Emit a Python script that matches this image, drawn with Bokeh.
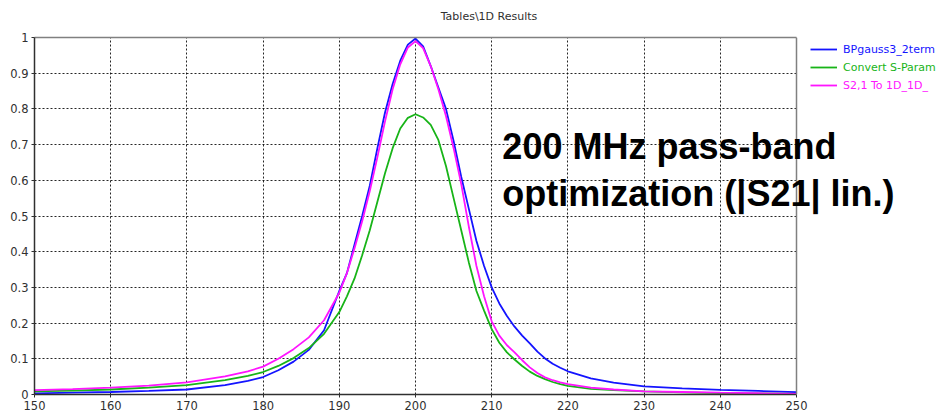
from bokeh.plotting import figure
from bokeh.models import (Range1d, FixedTicker, Label, Legend, LegendItem, LinearAxis,
                          Span, BoxAnnotation)
from bokeh.embed import file_html
from bokeh.resources import INLINE

# ---- data ----
freq = [150, 155, 160, 165, 170, 175, 178, 180, 182, 184, 186, 188, 190,
        191, 192, 193, 194, 195, 196, 197, 198, 199, 200, 201, 202, 203, 204,
        205, 206, 207, 208, 209, 210, 211, 212, 213,
        214, 215, 216, 217, 218, 219, 220, 223, 226, 230, 235, 240, 245, 250]

bp_gauss = [0.003, 0.005, 0.007, 0.010, 0.014, 0.026, 0.038, 0.049, 0.068, 0.092, 0.125, 0.180, 0.29,
            0.34, 0.42, 0.50, 0.585, 0.69, 0.79, 0.87, 0.935, 0.98, 0.997, 0.975, 0.92, 0.86, 0.80,
            0.71, 0.61, 0.52, 0.43, 0.36, 0.30, 0.255, 0.22, 0.19,
            0.165, 0.143, 0.120, 0.101, 0.086, 0.075, 0.065, 0.045, 0.033, 0.023, 0.017, 0.013, 0.010, 0.0065]

convert_s = [0.009, 0.011, 0.014, 0.019, 0.026, 0.040, 0.052, 0.063, 0.080, 0.102, 0.130, 0.170, 0.231,
             0.275, 0.325, 0.39, 0.46, 0.54, 0.62, 0.69, 0.745, 0.775, 0.785, 0.776, 0.755, 0.713, 0.64,
             0.55, 0.46, 0.37, 0.29, 0.235, 0.183, 0.145, 0.118, 0.098,
             0.080, 0.064, 0.052, 0.043, 0.035, 0.029, 0.024, 0.016, 0.012, 0.009, 0.006, 0.004, 0.003, 0.002]

s21 = [0.012, 0.015, 0.019, 0.025, 0.034, 0.051, 0.065, 0.078, 0.100, 0.127, 0.160, 0.208, 0.285,
       0.34, 0.41, 0.485, 0.57, 0.665, 0.765, 0.855, 0.925, 0.972, 0.99, 0.97, 0.92, 0.855, 0.78,
       0.69, 0.59, 0.47, 0.36, 0.275, 0.205, 0.165, 0.138, 0.118,
       0.096, 0.076, 0.060, 0.048, 0.040, 0.034, 0.029, 0.019, 0.014, 0.009, 0.007, 0.005, 0.0035, 0.002]

series_names = ["BPgauss3_2term", "Convert S-Param", "S2,1 To 1D_1D_"]
series_colors = ["#1414ff", "#18b418", "#ff14ff"]

x_ticks = [150, 160, 170, 180, 190, 200, 210, 220, 230, 240, 250]
y_ticks = [0.0, 0.1, 0.2, 0.3, 0.4, 0.5, 0.6, 0.7, 0.8, 0.9, 1.0]
y_tick_labels = ["0", "0.1", "0.2", "0.3", "0.4", "0.5", "0.6", "0.7", "0.8", "0.9", "1"]

chart_title = "Tables\\1D Results"
note_lines = ["200 MHz pass-band", "optimization (|S21| lin.)"]

FONT = "DejaVu Sans"
X_MIN, X_MAX = 150, 250
PX_PER_UNIT = 7.62                      # 10 MHz = 76.2 px in the reference
FRAME_W = 943 - 34
X_VIEW_END = X_MIN + FRAME_W / PX_PER_UNIT   # room right of 250 for legend

p = figure(width=943, height=419, output_backend="svg", toolbar_location=None, title=None,
           x_range=Range1d(X_MIN, X_VIEW_END), y_range=Range1d(0, 1),
           min_border_left=34, min_border_right=0, min_border_top=37, min_border_bottom=25)

p.background_fill_color = "white"
p.border_fill_color = "white"
p.outline_line_color = None

for ax in (p.xaxis[0], p.yaxis[0]):
    ax.axis_line_color = "#303030"
    ax.axis_line_width = 1.5
    ax.major_tick_line_color = "#303030"
    ax.major_tick_in = 0
    ax.major_tick_out = 3
    ax.minor_tick_line_color = None
    ax.major_label_text_font = FONT
    ax.major_label_text_font_size = "11.5px"
    ax.major_label_text_color = "#303030"
    ax.major_label_standoff = 3

p.xaxis[0].bounds = (X_MIN, X_MAX)
p.xaxis[0].ticker = FixedTicker(ticks=x_ticks)
p.yaxis[0].ticker = FixedTicker(ticks=y_ticks)
p.yaxis[0].major_label_overrides = {t: s for t, s in zip(y_ticks, y_tick_labels)}

# top border of the plotting box, carrying the chart title centred over 150..250
top_axis = LinearAxis(bounds=(X_MIN, X_MAX), ticker=FixedTicker(ticks=[]),
                      axis_line_color="#808080", axis_line_width=1.5,
                      major_tick_line_color=None, minor_tick_line_color=None,
                      major_tick_out=0, major_tick_in=0, major_label_standoff=0,
                      major_label_text_alpha=0,
                      axis_label=chart_title, axis_label_standoff=15,
                      axis_label_text_font=FONT, axis_label_text_font_size="11px",
                      axis_label_text_font_style="normal", axis_label_text_color="#303030")
p.add_layout(top_axis, "above")

for g in (p.xgrid[0], p.ygrid[0]):
    g.grid_line_color = "black"
    g.grid_line_dash = "2 2"
    g.grid_line_width = 1
    g.grid_line_alpha = 0.85
p.xgrid[0].ticker = FixedTicker(ticks=x_ticks)
p.ygrid[0].ticker = FixedTicker(ticks=y_ticks)

renderers = []
for vals, col in zip([bp_gauss, convert_s, s21], series_colors):
    r = p.line(freq, vals, line_color=col, line_width=1.8)
    renderers.append(r)

# blank area right of the plotting box (legend area)
p.add_layout(BoxAnnotation(left=X_MAX, fill_color="white", fill_alpha=1, line_color=None))
# right border of the plotting box
p.add_layout(Span(location=X_MAX, dimension="height", line_color="#808080", line_width=1.5))

p.add_layout(Label(x=211.4, y=0.695, text=note_lines[0], text_align="left",
                   text_baseline="alphabetic", text_font="Liberation Sans",
                   text_font_size="36px", text_font_style="bold", text_color="black"))
p.add_layout(Label(x=211.4, y=0.562, text=note_lines[1], text_align="left",
                   text_baseline="alphabetic", text_font="Liberation Sans",
                   text_font_size="36px", text_font_style="bold", text_color="black"))

# legend: one entry per Legend so each label keeps its own colour
row_y = [338, 320, 302]
for name, col, r, ly in zip(series_names, series_colors, renderers, row_y):
    lg = Legend(items=[LegendItem(label=name, renderers=[r])], location=(776, ly),
                background_fill_alpha=0, border_line_alpha=0, padding=0, margin=0,
                glyph_width=27, glyph_height=14, label_height=14, label_standoff=6,
                label_text_font=FONT, label_text_font_size="11px",
                label_text_color=col, spacing=0)
    p.add_layout(lg, "center")

open("out.html", "w").write(file_html(p, INLINE))
